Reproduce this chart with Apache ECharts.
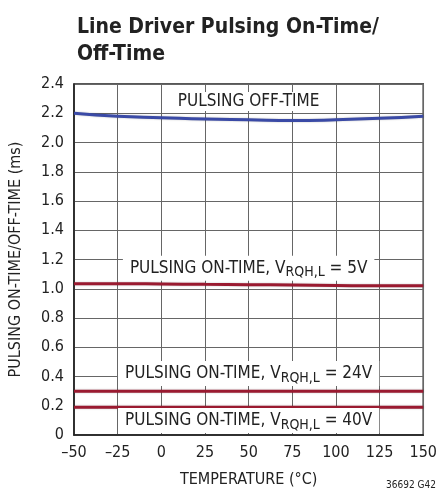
<!DOCTYPE html>
<html>
<head>
<meta charset="utf-8">
<script src="https://cdn.jsdelivr.net/npm/echarts@6/dist/echarts.min.js"></script>
<style>
  html, body { margin: 0; padding: 0; background: #fff; }
  #chart { width: 440px; height: 496px; }
</style>
</head>
<body>
<div id="chart"></div>
<script>
// temperature (°C)
var temps = [-50, -25, 0, 25, 50, 75, 100, 125, 150];
// pulsing times (ms)
var offTime = [2.20, 2.18, 2.17, 2.16, 2.155, 2.15, 2.155, 2.165, 2.18];
var onTime5V = [1.035, 1.035, 1.033, 1.03, 1.028, 1.025, 1.022, 1.02, 1.02];
var onTime24V = [0.30, 0.30, 0.30, 0.30, 0.30, 0.30, 0.30, 0.30, 0.30];
var onTime40V = [0.19, 0.19, 0.19, 0.19, 0.19, 0.19, 0.19, 0.19, 0.19];
var yTicks = [0, 0.2, 0.4, 0.6, 0.8, 1.0, 1.2, 1.4, 1.6, 1.8, 2.0, 2.2, 2.4];

var FONT = "'Liberation Sans Narrow', 'DejaVu Sans Condensed', sans-serif";
var BLUE = "#3a4aa6";
var RED = "#9a1a30";

function pairs(ys) {
  return temps.map(function (t, i) { return [t, ys[i]]; });
}

var labelRich = {
  a: { fontFamily: FONT, fontSize: 17, color: "#222" },
  s: { fontFamily: FONT, fontSize: 14, color: "#222", padding: [9, 0, 0, 0] }
};

function tag(text, x, y) {
  return {
    symbol: "rect",
    symbolSize: 0,
    coord: [x, y],
    label: {
      show: true,
      position: "inside",
      formatter: text,
      backgroundColor: "#fff",
      padding: [1, 7, 1, 7],
      rich: labelRich
    }
  };
}

function line(name, ys, color, tags) {
  return {
    name: name,
    type: "line",
    data: pairs(ys),
    smooth: true,
    symbol: "none",
    lineStyle: { color: color, width: 3, shadowColor: "rgba(0,0,0,0.25)", shadowBlur: 2 },
    markPoint: tags ? { silent: true, data: tags } : undefined,
    z: 3
  };
}

var chart = echarts.init(document.getElementById("chart"));
chart.setOption({
  animation: false,
  backgroundColor: "#fff",
  title: {
    text: "Line Driver Pulsing On-Time/\nOff-Time",
    left: 72,
    top: 9,
    textStyle: { fontFamily: FONT, fontSize: 21, fontWeight: "bold", color: "#222", lineHeight: 27 }
  },
  grid: { left: 73, right: 15, top: 84, bottom: 61, show: true, borderColor: "#222", borderWidth: 1.5, backgroundColor: "transparent" },
  xAxis: {
    type: "value",
    min: -50,
    max: 150,
    interval: 25,
    name: "TEMPERATURE (°C)",
    nameLocation: "middle",
    nameGap: 37,
    nameTextStyle: { fontFamily: FONT, fontSize: 16, color: "#222" },
    axisLine: { show: true, onZero: false, lineStyle: { color: "#222", width: 1.5 } },
    axisTick: { show: false },
    splitLine: { show: true, lineStyle: { color: "#666", width: 1 } },
    axisLabel: {
      fontFamily: FONT, fontSize: 16, color: "#222", margin: 10,
      formatter: function (v) { return String(v).replace("-", "\u2013"); }
    }
  },
  yAxis: {
    type: "value",
    min: 0,
    max: 2.4,
    interval: 0.2,
    name: "PULSING ON-TIME/OFF-TIME (ms)",
    nameLocation: "middle",
    nameGap: 50,
    nameTextStyle: { fontFamily: FONT, fontSize: 16, color: "#222" },
    axisLine: { show: true, onZero: false, lineStyle: { color: "#222", width: 1.5 } },
    axisTick: { show: false },
    splitLine: { show: true, lineStyle: { color: "#666", width: 1 } },
    axisLabel: {
      fontFamily: FONT, fontSize: 16, color: "#222", margin: 10,
      formatter: function (v) {
        var i = yTicks.findIndex(function (t) { return Math.abs(t - v) < 1e-6; });
        return v === 0 ? "0" : yTicks[i].toFixed(1);
      }
    }
  },
  series: [
    line("off", offTime, BLUE, [tag("{a|PULSING OFF-TIME}", 50, 2.28)]),
    line("on5", onTime5V, RED, [tag("{a|PULSING ON-TIME, V}{s|RQH,L}{a| = 5V}", 50, 1.14)]),
    line("on24", onTime24V, RED, [tag("{a|PULSING ON-TIME, V}{s|RQH,L}{a| = 24V}", 50, 0.42)]),
    line("on40", onTime40V, RED, [tag("{a|PULSING ON-TIME, V}{s|RQH,L}{a| = 40V}", 50, 0.10)])
  ],
  graphic: [{
    type: "text",
    right: 4,
    bottom: 6,
    style: { text: "36692 G42", fontFamily: FONT, fontSize: 10, fill: "#222" }
  }]
});
</script>
</body>
</html>
